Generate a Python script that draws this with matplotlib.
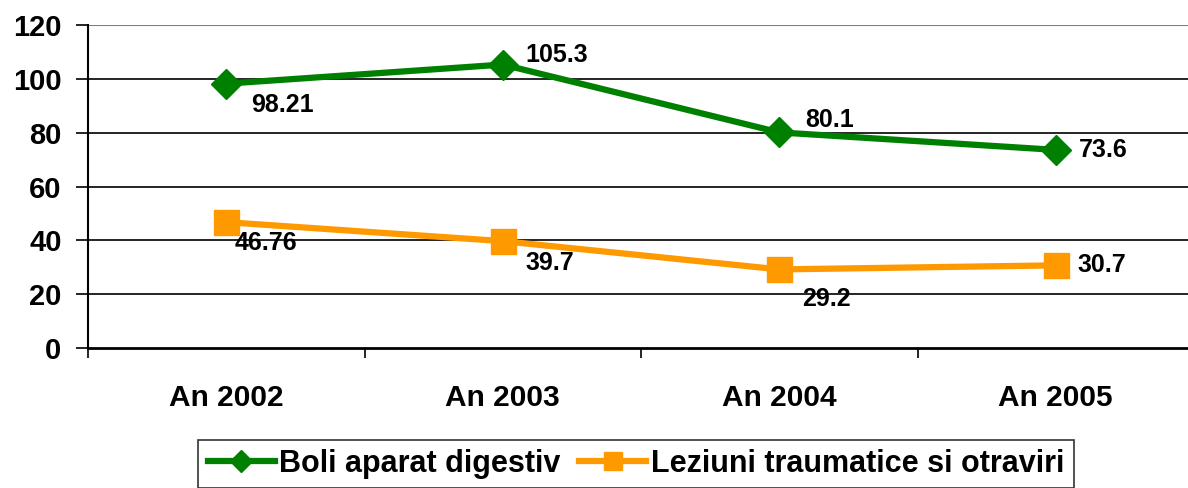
import numpy as np
import matplotlib.pyplot as plt
from matplotlib.ticker import FixedLocator

plt.rcParams['font.family'] = ['Liberation Sans', 'DejaVu Sans']
plt.rcParams['font.weight'] = 'bold'

years = ["An 2002", "An 2003", "An 2004", "An 2005"]
digestiv = [98.21, 105.3, 80.1, 73.6]
leziuni = [46.76, 39.7, 29.2, 30.7]
digestiv_labels = ["98.21", "105.3", "80.1", "73.6"]
leziuni_labels = ["46.76", "39.7", "29.2", "30.7"]

# label offsets in pixels (dx, dy) from the marker
dig_off = [(25, -21), (23, 10), (26, 12), (23, 0)]
lez_off = [(8, -21), (23, -22), (23, -30), (22, 0)]

green = "#008000"
orange = "#FF9900"

fig = plt.figure(figsize=(11.88, 4.88), dpi=100)
ax = fig.add_axes([88 / 1188, 1 - 348 / 488, (1194 - 88) / 1188, 323 / 488])

x = np.arange(len(years))
ax.plot(x, digestiv, color=green, lw=4.5, marker="D", ms=15, mec=green,
        label="Boli aparat digestiv", zorder=4, clip_on=False)
ax.plot(x, leziuni, color=orange, lw=4.5, marker="s", ms=18, mec=orange,
        label="Leziuni traumatice si otraviri", zorder=4, clip_on=False)

for xi, v, t, (dx, dy) in zip(x, digestiv, digestiv_labels, dig_off):
    ax.annotate(t, (xi, v), xytext=(dx, dy), textcoords="offset pixels",
                ha="left", va="center", fontsize=18, fontweight="bold")
for xi, v, t, (dx, dy) in zip(x, leziuni, leziuni_labels, lez_off):
    ax.annotate(t, (xi, v), xytext=(dx, dy), textcoords="offset pixels",
                ha="left", va="center", fontsize=18, fontweight="bold")

ax.set_xlim(-0.5, 3.5)
ax.set_ylim(0, 120)
ax.set_yticks(np.arange(0, 121, 20))
ax.set_xticks(x)
ax.set_xticklabels(years)
ax.xaxis.set_minor_locator(FixedLocator([-0.5, 0.5, 1.5, 2.5, 3.5]))

ax.tick_params(axis="y", length=9, width=1.2, pad=10, labelsize=21)
ax.tick_params(axis="x", which="major", length=0, pad=26, labelsize=21.5)
ax.tick_params(axis="x", which="minor", length=7, width=1.2)
for lab in ax.get_xticklabels() + ax.get_yticklabels():
    lab.set_fontweight("bold")

for yv in np.arange(20, 101, 20):
    ax.axhline(yv, color="black", lw=1.2, zorder=1)
ax.axhline(120, color="#808080", lw=1.5, zorder=1)

ax.spines["top"].set_visible(False)
ax.spines["right"].set_visible(False)
ax.spines["left"].set_linewidth(1.5)
ax.spines["bottom"].set_linewidth(2)

leg = fig.legend(loc="upper center", bbox_to_anchor=(636 / 1188, 1 - 440 / 488),
                 ncol=2, frameon=True, fancybox=False, edgecolor="black",
                 prop={"weight": "bold", "size": 22}, borderaxespad=0,
                 handlelength=2.2, handletextpad=0.15, columnspacing=0.6,
                 borderpad=0.3, markerscale=0.75)
leg.get_frame().set_linewidth(1.2)

fig.savefig("out.png", dpi=100)
